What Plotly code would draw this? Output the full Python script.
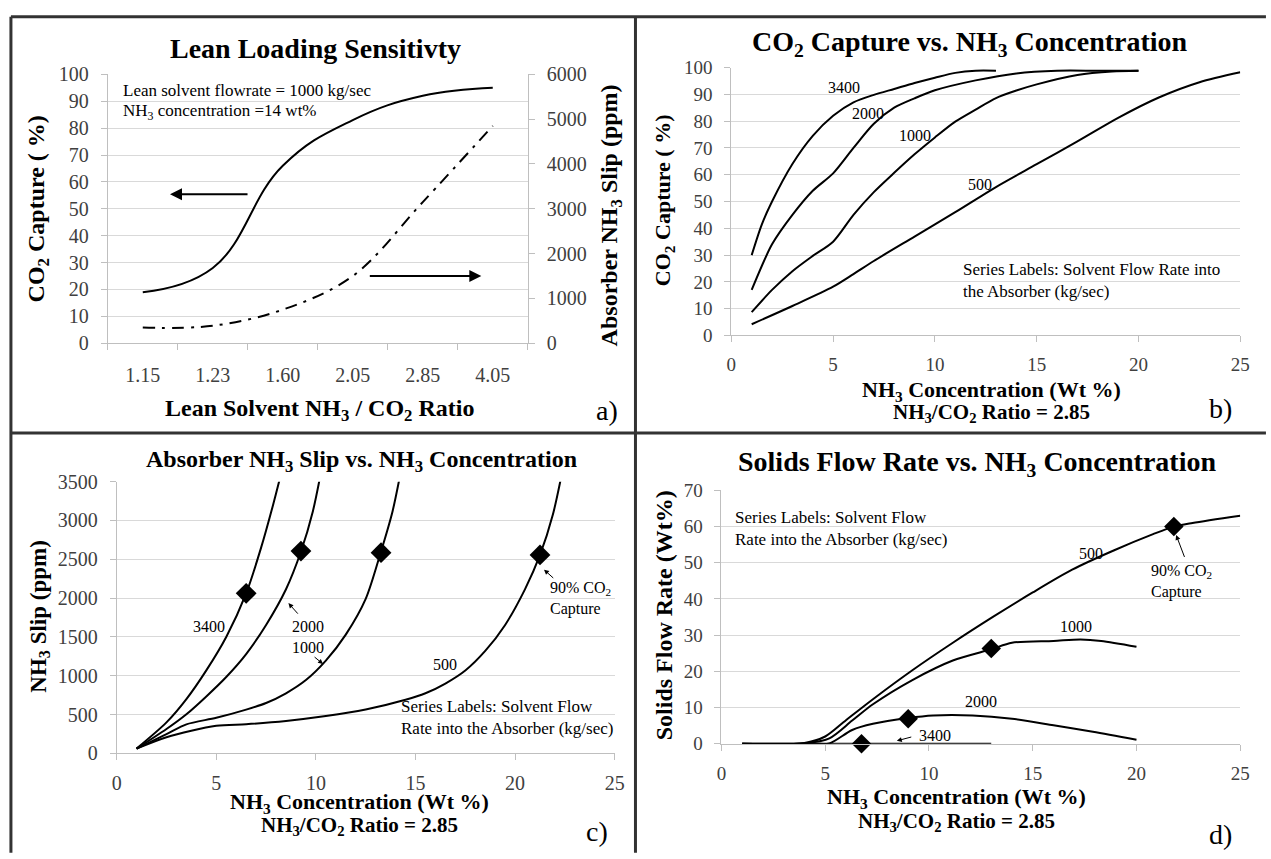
import plotly.graph_objects as go

W, H = 1271, 859
FONT = "Liberation Serif, Times New Roman, serif"

# ---------------- data ----------------
# Panel a
ratio_labels = ["1.15", "1.23", "1.60", "2.05", "2.85", "4.05"]
capture_a = [19, 28, 66, 83, 92, 95]
slip_a = [350, 390, 750, 1500, 3150, 4850]

# Panel b: CO2 capture (%) vs NH3 concentration
b_conc_3400 = [1, 1.5, 2, 3, 4, 5, 6, 7, 8, 9, 10, 11, 12, 13]
b_cap_3400 = [30, 41.5, 50, 64, 74.5, 82, 87, 89.8, 92, 94.2, 96.2, 98, 98.8, 98.8]
b_conc_2000 = [1, 2, 3, 4, 5, 6, 7, 8, 9, 10, 12, 14, 16, 18, 20]
b_cap_2000 = [17, 34, 45, 54, 60.5, 70, 79, 85, 88.5, 91.5, 95.2, 97.8, 98.8, 98.8, 98.8]
b_conc_1000 = [1, 2, 3, 4, 5, 6, 7, 8, 9, 10, 11, 12, 13, 14, 15, 17, 18.7, 20]
b_cap_1000 = [8.7, 17, 24, 29.7, 35, 45, 53.5, 60.7, 67.6, 73.9, 79.8, 84.3, 88.6, 91.4, 93.7, 97.2, 98.5, 98.8]
b_conc_500 = [1, 3, 5, 6, 7, 9, 11, 13, 15, 17, 19, 21, 23, 25]
b_cap_500 = [4.2, 11, 18.2, 22.9, 27.8, 36.9, 46, 55.4, 63.9, 72.4, 81.2, 88.8, 94.5, 98.2]

# Panel c: NH3 slip (ppm) vs NH3 concentration
c_conc_3400 = [1, 2.5, 3.5, 4.5, 5.5, 6.5, 7.25, 7.85, 8.3]
c_slip_3400 = [63, 400, 700, 1070, 1500, 2060, 2650, 3200, 3650]
c_conc_2000 = [1, 2.5, 3.5, 4.5, 5.5, 6.5, 7.5, 8.5, 9.25, 9.85, 10.3]
c_slip_2000 = [63, 315, 505, 735, 985, 1280, 1655, 2115, 2600, 3120, 3680]
c_conc_1000 = [1, 2.5, 3.5, 5, 6.5, 7.5, 8.5, 9.5, 10.5, 11.5, 12.5, 13.25, 13.85, 14.3]
c_slip_1000 = [63, 250, 375, 460, 565, 650, 775, 945, 1195, 1530, 1990, 2585, 3120, 3680]
c_conc_500 = [1, 2.5, 5, 6.5, 8.5, 10.5, 12.5, 14.5, 15.5, 16.5, 17.5, 18.5, 19.5, 20.5, 21.25, 21.9, 22.4]
c_slip_500 = [63, 210, 356, 377, 419, 482, 566, 691, 775, 900, 1068, 1320, 1655, 2116, 2556, 3080, 3670]
c_mark_conc = [6.5, 9.25, 13.27, 21.25]
c_mark_slip = [2062, 2606, 2585, 2556]

# Panel d: solids flow rate (wt%) vs NH3 concentration
d_conc_500 = [1, 4, 5, 6, 7.3, 9.2, 11.15, 13.1, 15, 16.9, 18.9, 20.8, 21.8, 22.7, 25]
d_sol_500 = [0, 0.2, 2.0, 6.5, 12.3, 20.3, 27.9, 35.1, 41.8, 48.1, 53.4, 57.9, 60, 61, 63]
d_conc_1000 = [1, 4, 5.2, 6.3, 7.3, 9.2, 11.15, 13, 14, 16, 17.3, 18.3, 20]
d_sol_1000 = [0, 0.1, 1.5, 6.4, 10.9, 17.6, 23, 26.1, 27.9, 28.4, 28.8, 28.4, 26.8]
d_conc_2000 = [1, 4.5, 5.2, 6.3, 7.3, 9, 10.2, 12.1, 14, 16, 17.9, 20]
d_sol_2000 = [0, 0, 0.1, 3.8, 5.5, 7.1, 7.8, 7.8, 6.9, 5.1, 3.3, 1.1]
d_conc_3400 = [1, 5, 9, 13]
d_sol_3400 = [0, 0, 0, 0]
d_mark_conc = [21.8, 13.0, 9.0, 6.75]
d_mark_sol = [60, 26.3, 6.9, 0]


def X(px):
    return px / W


def Y(py):
    return 1 - py / H


fig = go.Figure()
LINE = dict(color="black", width=2, shape="spline", smoothing=0.8)

# panel a
fig.add_trace(go.Scatter(x=ratio_labels, y=capture_a, mode="lines",
                         line=dict(color="black", width=2, shape="spline", smoothing=1.2),
                         xaxis="x", yaxis="y", showlegend=False))
fig.add_trace(go.Scatter(x=ratio_labels, y=slip_a, mode="lines",
                         line=dict(color="black", width=2, shape="spline", smoothing=1.0,
                                   dash="12px,7px,3px,7px"),
                         xaxis="x", yaxis="y5", showlegend=False))
# panel b
for xs, ys in [(b_conc_3400, b_cap_3400), (b_conc_2000, b_cap_2000),
               (b_conc_1000, b_cap_1000), (b_conc_500, b_cap_500)]:
    fig.add_trace(go.Scatter(x=xs, y=ys, mode="lines", line=LINE,
                             xaxis="x2", yaxis="y2", showlegend=False))
# panel c
for xs, ys in [(c_conc_3400, c_slip_3400), (c_conc_2000, c_slip_2000),
               (c_conc_1000, c_slip_1000), (c_conc_500, c_slip_500)]:
    fig.add_trace(go.Scatter(x=xs, y=ys, mode="lines", line=LINE,
                             xaxis="x3", yaxis="y3", showlegend=False))
fig.add_trace(go.Scatter(x=c_mark_conc, y=c_mark_slip, mode="markers",
                         marker=dict(symbol="diamond", size=16, color="black"),
                         xaxis="x3", yaxis="y3", showlegend=False, cliponaxis=False))
# panel d
for xs, ys in [(d_conc_500, d_sol_500), (d_conc_1000, d_sol_1000),
               (d_conc_2000, d_sol_2000), (d_conc_3400, d_sol_3400)]:
    fig.add_trace(go.Scatter(x=xs, y=ys, mode="lines", line=LINE,
                             xaxis="x4", yaxis="y4", showlegend=False))
fig.add_trace(go.Scatter(x=d_mark_conc, y=d_mark_sol, mode="markers",
                         marker=dict(symbol="diamond", size=15, color="black"),
                         xaxis="x4", yaxis="y4", showlegend=False, cliponaxis=False))

AX = "#bfbfbf"
GRID = "#d9d9d9"
TICKC = "#404040"


def xax(dom, anchor, size=19, **kw):
    d = dict(domain=dom, anchor=anchor, showline=True, linecolor=AX, linewidth=1,
             ticks="outside", ticklen=6, tickcolor=AX, showgrid=False, zeroline=False,
             tickfont=dict(family=FONT, size=size, color=TICKC), fixedrange=True,
             ticklabelstandoff=6)
    d.update(kw)
    return d


def yax(dom, anchor, rng, dtick, size=19, **kw):
    d = dict(domain=dom, anchor=anchor, range=rng, dtick=dtick, showline=True,
             linecolor=AX, linewidth=1, ticks="outside", ticklen=6, tickcolor=AX,
             showgrid=True, gridcolor=GRID, gridwidth=1, zeroline=False,
             tickfont=dict(family=FONT, size=size, color=TICKC), ticklabelstandoff=8)
    d.update(kw)
    return d


fig.update_layout(
    width=W, height=H, margin=dict(l=0, r=0, t=0, b=0),
    paper_bgcolor="white", plot_bgcolor="white",
    font=dict(family=FONT, color="black"),
    xaxis=xax([X(104), X(529)], "y", size=20, type="category", range=[-0.5, 5.5],
              tickson="boundaries", ticklabelstandoff=14),
    yaxis=yax([Y(341), Y(65)], "x", [0, 100], 10, size=20),
    yaxis5=dict(overlaying="y", side="right", anchor="x", range=[0, 6000], dtick=1000,
                showline=True, linecolor=AX, ticks="outside", ticklen=6, tickcolor=AX,
                showgrid=False, zeroline=False, ticklabelstandoff=8,
                tickfont=dict(family=FONT, size=20, color=TICKC)),
    xaxis2=xax([X(735), X(1250)], "y2", range=[0, 25], dtick=5),
    yaxis2=yax([Y(333), Y(58)], "x2", [0, 100], 10),
    xaxis3=xax([X(113), X(617)], "y3", size=20, range=[0, 25], dtick=5),
    yaxis3=yax([Y(762), Y(483)], "x3", [0, 3500], 500, size=20),
    xaxis4=xax([X(725), X(1250)], "y4", range=[0, 25], dtick=5),
    yaxis4=yax([Y(752), Y(492)], "x4", [0, 70], 10),
)

ann = []


def ptext(text, px, py, size, bold=False, angle=0, xanchor="center", color="black"):
    t = f"<b>{text}</b>" if bold else text
    ann.append(dict(text=t, x=X(px), y=Y(py), xref="paper", yref="paper",
                    showarrow=False, xanchor=xanchor, yanchor="middle", textangle=angle,
                    font=dict(family=FONT, size=size, color=color)))


def dtext(text, x, y, xr, yr, size=17, xanchor="center", align="center"):
    ann.append(dict(text=text, x=x, y=y, xref=xr, yref=yr, showarrow=False,
                    xanchor=xanchor, yanchor="middle", align=align,
                    font=dict(family=FONT, size=size, color="black")))


def darrow(x0, y0, x1, y1, xr, yr):
    ann.append(dict(text="", x=x1, y=y1, ax=x0, ay=y0, xref=xr, yref=yr, axref=xr, ayref=yr,
                    showarrow=True, arrowhead=2, arrowsize=1, arrowwidth=1, arrowcolor="black"))


def parrow(px0, py0, px1, py1):
    ann.append(dict(text="", x=X(px1), y=Y(py1), ax=px0 - px1, ay=py0 - py1,
                    xref="paper", yref="paper", axref="pixel", ayref="pixel",
                    showarrow=True, arrowhead=2, arrowsize=1.2,
                    arrowwidth=2, arrowcolor="black"))


# panel a texts
ptext("Lean Loading Sensitivty", 314, 38, 28, bold=True)
ptext("CO<sub>2</sub> Capture ( %)", 33, 203, 24, bold=True, angle=-90)
ptext("Absorber NH<sub>3</sub> Slip (ppm)", 613, 210, 24, bold=True, angle=-90)
ptext("Lean Solvent NH<sub>3</sub> / CO<sub>2</sub> Ratio", 318, 410, 24, bold=True)
ptext("a)", 609, 410, 28)
ptext("Lean solvent flowrate = 1000 kg/sec", 117, 82, 17, xanchor="left")
ptext("NH<sub>3</sub> concentration =14 wt%", 117, 104, 17, xanchor="left")
parrow(246, 188, 167, 188)
parrow(369, 272, 482, 272)

# panel b texts
ptext("CO<sub>2</sub> Capture vs. NH<sub>3</sub> Concentration", 977, 33, 28, bold=True)
ptext("CO<sub>2</sub> Capture ( %)", 667, 194, 22, bold=True, angle=-90)
ptext("NH<sub>3</sub> Concentration (Wt %)", 998, 390, 22, bold=True)
ptext("NH<sub>3</sub>/CO<sub>2</sub> Ratio = 2.85", 998, 413, 21, bold=True)
ptext("b)", 1230, 408, 28)
dtext("3400", 5.55, 92.7, "x2", "y2", 16)
dtext("2000", 6.73, 83, "x2", "y2", 16)
dtext("1000", 9.0, 74.5, "x2", "y2", 16)
dtext("500", 12.2, 56.4, "x2", "y2", 16)
dtext("Series Labels: Solvent Flow Rate into<br>the Absorber (kg/sec)", 11.26, 20.4,
      "x2", "y2", 17, xanchor="left", align="left")

# panel c texts
ptext("Absorber NH<sub>3</sub> Slip vs. NH<sub>3</sub> Concentration", 361, 462, 24, bold=True)
ptext("NH<sub>3</sub> Slip (ppm)", 35, 622, 23, bold=True, angle=-90)
ptext("NH<sub>3</sub> Concentration (Wt %)", 359, 813, 22, bold=True)
ptext("NH<sub>3</sub>/CO<sub>2</sub> Ratio = 2.85", 359, 836, 21, bold=True)
ptext("c)", 599, 842, 28)
dtext("3400", 4.65, 1634, "x3", "y3", 16)
dtext("2000", 9.62, 1634, "x3", "y3", 16)
dtext("1000", 9.62, 1370, "x3", "y3", 16)
dtext("500", 16.48, 1144, "x3", "y3", 16)
dtext("90% CO<sub>2</sub><br>Capture", 21.65, 1995, "x3", "y3", 16, xanchor="left", align="left")
dtext("Series Labels: Solvent Flow<br>Rate into the Absorber (kg/sec)", 14.17, 461,
      "x3", "y3", 17, xanchor="left", align="left")
darrow(9.16, 1781, 8.62, 1936, "x3", "y3")
darrow(9.86, 1257, 10.36, 1152, "x3", "y3")
darrow(21.99, 2242, 21.45, 2367, "x3", "y3")

# panel d texts
ptext("Solids Flow Rate vs. NH<sub>3</sub> Concentration", 984, 464, 28, bold=True)
ptext("Solids Flow Rate (Wt%)", 667, 620, 24, bold=True, angle=-90)
ptext("NH<sub>3</sub> Concentration (Wt %)", 963, 808, 22, bold=True)
ptext("NH<sub>3</sub>/CO<sub>2</sub> Ratio = 2.85", 963, 832, 21, bold=True)
ptext("d)", 1230, 845, 28)
dtext("Series Labels: Solvent Flow<br>Rate into the Absorber (kg/sec)", 0.54, 59.6,
      "x4", "y4", 17, xanchor="left", align="left")
dtext("500", 17.8, 52.7, "x4", "y4", 16)
dtext("1000", 17.1, 32.4, "x4", "y4", 16)
dtext("2000", 12.5, 11.8, "x4", "y4", 16)
dtext("3400", 9.41, 2.4, "x4", "y4", 16, xanchor="left")
dtext("90% CO<sub>2</sub><br>Capture", 20.6, 44.9, "x4", "y4", 16, xanchor="left", align="left")
darrow(9.22, 1.97, 8.45, 0.8, "x4", "y4")
darrow(22.34, 51.2, 21.91, 57.7, "x4", "y4")

fig.update_layout(annotations=ann)

# panel frames
BORDER = "#333333"
shapes = [
    dict(type="line", xref="paper", yref="paper", x0=X(6), x1=X(6), y0=Y(6), y1=Y(H + 5),
         line=dict(color=BORDER, width=3)),
    dict(type="line", xref="paper", yref="paper", x0=X(6), x1=X(W + 5), y0=Y(6), y1=Y(6),
         line=dict(color=BORDER, width=3)),
    dict(type="line", xref="paper", yref="paper", x0=X(638), x1=X(638), y0=Y(6), y1=Y(H + 5),
         line=dict(color=BORDER, width=3)),
    dict(type="line", xref="paper", yref="paper", x0=X(6), x1=X(W + 5), y0=Y(433), y1=Y(433),
         line=dict(color=BORDER, width=3)),
]
fig.update_layout(shapes=shapes)

fig.write_html("out.html", config={"displayModeBar": False},
               post_script="document.body.style.margin='0';document.body.style.padding='0';")
